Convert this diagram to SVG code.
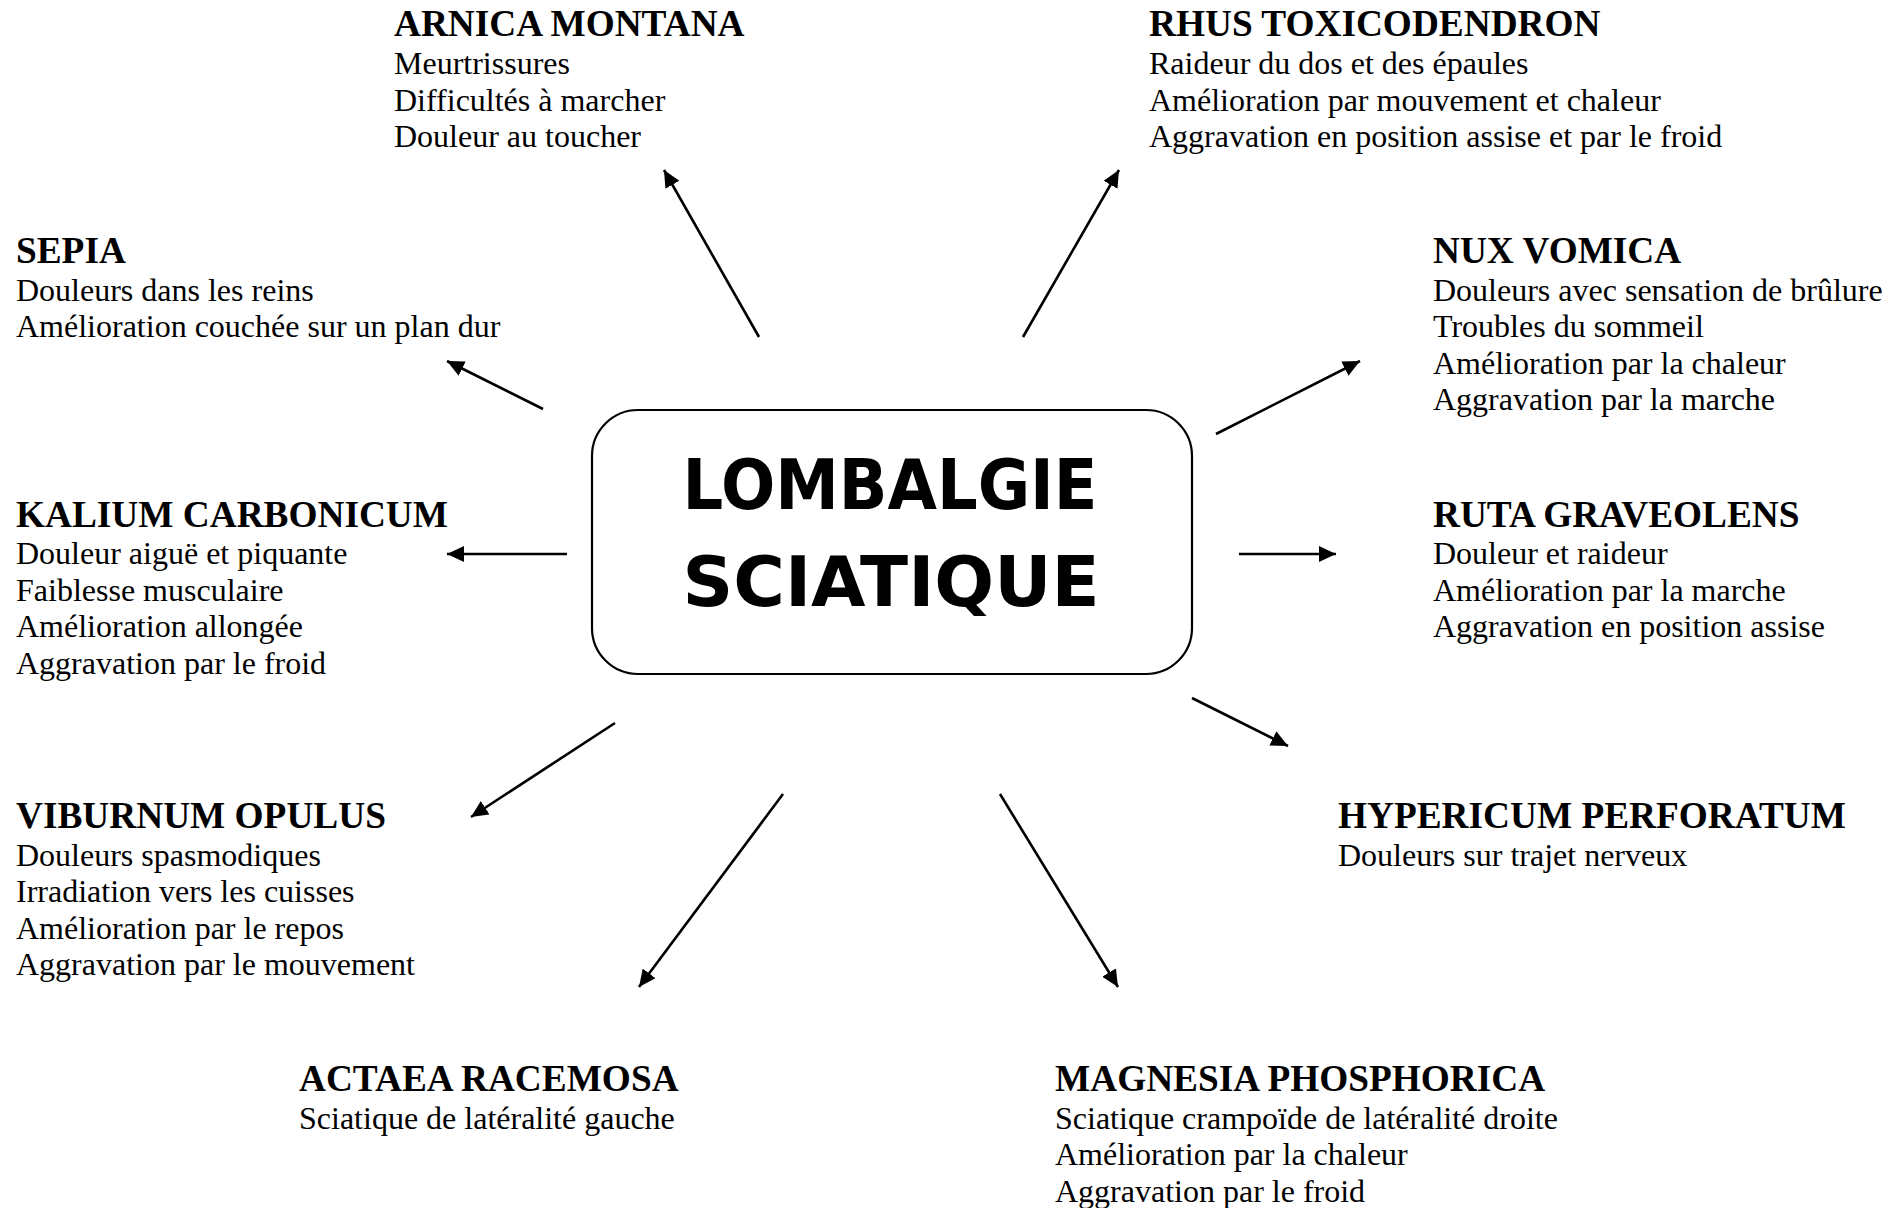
<svg xmlns="http://www.w3.org/2000/svg" width="1901" height="1208" viewBox="0 0 1901 1208">
<style>
.t{font-family:"Liberation Serif","Times New Roman",serif;font-weight:bold;font-size:37.3px;fill:#000}
.b{font-family:"Liberation Serif","Times New Roman",serif;font-size:32px;fill:#000}
.c{font-family:"Comic Sans MS","DejaVu Sans",sans-serif;font-weight:bold;font-size:70px;fill:#000}
.a{stroke:#000;stroke-width:2.6;fill:none;marker-end:url(#ah)}
</style>
<defs>
<marker id="ah" markerUnits="userSpaceOnUse" markerWidth="18" markerHeight="16" refX="17" refY="8" orient="auto">
<path d="M0,0 L17,8 L0,16 z" fill="#000"/>
</marker>
</defs>
<rect width="1901" height="1208" fill="#fff"/>
<g id="center">
<rect x="592" y="410" width="600" height="264" rx="46" ry="46" fill="#fff" stroke="#000" stroke-width="2.2"/>
<text class="c" x="890" y="509" text-anchor="middle" textLength="415" lengthAdjust="spacingAndGlyphs">LOMBALGIE</text>
<text class="c" x="891" y="606" text-anchor="middle" textLength="417" lengthAdjust="spacingAndGlyphs">SCIATIQUE</text>
</g>
<g id="connectors">
<line class="a" x1="759" y1="337" x2="664" y2="170"/>
<line class="a" x1="1023" y1="337" x2="1119" y2="170"/>
<line class="a" x1="543" y1="409" x2="447" y2="361"/>
<line class="a" x1="1216" y1="434" x2="1360" y2="361"/>
<line class="a" x1="567" y1="554" x2="447" y2="554"/>
<line class="a" x1="1239" y1="554" x2="1336" y2="554"/>
<line class="a" x1="615" y1="723" x2="471" y2="817"/>
<line class="a" x1="1192" y1="698" x2="1288" y2="746"/>
<line class="a" x1="783" y1="794" x2="639" y2="987"/>
<line class="a" x1="1000" y1="794" x2="1118" y2="987"/>
</g>
<g id="arnica">
<text class="t" x="394" y="36">ARNICA MONTANA</text>
<text class="b" x="394" y="74">Meurtrissures</text>
<text class="b" x="394" y="110.5">Difficultés à marcher</text>
<text class="b" x="394" y="147">Douleur au toucher</text>
</g>
<g id="rhus">
<text class="t" x="1149" y="36">RHUS TOXICODENDRON</text>
<text class="b" x="1149" y="74">Raideur du dos et des épaules</text>
<text class="b" x="1149" y="110.5">Amélioration par mouvement et chaleur</text>
<text class="b" x="1149" y="147">Aggravation en position assise et par le froid</text>
</g>
<g id="sepia">
<text class="t" x="16" y="263">SEPIA</text>
<text class="b" x="16" y="300.5">Douleurs dans les reins</text>
<text class="b" x="16" y="337">Amélioration couchée sur un plan dur</text>
</g>
<g id="nux">
<text class="t" x="1433" y="263">NUX VOMICA</text>
<text class="b" x="1433" y="300.5">Douleurs avec sensation de brûlure</text>
<text class="b" x="1433" y="337">Troubles du sommeil</text>
<text class="b" x="1433" y="373.5">Amélioration par la chaleur</text>
<text class="b" x="1433" y="410">Aggravation par la marche</text>
</g>
<g id="kalium">
<text class="t" x="16" y="527">KALIUM CARBONICUM</text>
<text class="b" x="16" y="564">Douleur aiguë et piquante</text>
<text class="b" x="16" y="600.5">Faiblesse musculaire</text>
<text class="b" x="16" y="637">Amélioration allongée</text>
<text class="b" x="16" y="673.5">Aggravation par le froid</text>
</g>
<g id="ruta">
<text class="t" x="1433" y="527">RUTA GRAVEOLENS</text>
<text class="b" x="1433" y="564">Douleur et raideur</text>
<text class="b" x="1433" y="600.5">Amélioration par la marche</text>
<text class="b" x="1433" y="637">Aggravation en position assise</text>
</g>
<g id="viburnum">
<text class="t" x="16" y="828">VIBURNUM OPULUS</text>
<text class="b" x="16" y="865.5">Douleurs spasmodiques</text>
<text class="b" x="16" y="902">Irradiation vers les cuisses</text>
<text class="b" x="16" y="938.5">Amélioration par le repos</text>
<text class="b" x="16" y="975">Aggravation par le mouvement</text>
</g>
<g id="hypericum">
<text class="t" x="1338" y="828">HYPERICUM PERFORATUM</text>
<text class="b" x="1338" y="865.5">Douleurs sur trajet nerveux</text>
</g>
<g id="actaea">
<text class="t" x="299" y="1091">ACTAEA RACEMOSA</text>
<text class="b" x="299" y="1128.5">Sciatique de latéralité gauche</text>
</g>
<g id="magnesia">
<text class="t" x="1055" y="1091">MAGNESIA PHOSPHORICA</text>
<text class="b" x="1055" y="1128.5">Sciatique crampoïde de latéralité droite</text>
<text class="b" x="1055" y="1165">Amélioration par la chaleur</text>
<text class="b" x="1055" y="1201.5">Aggravation par le froid</text>
</g>
</svg>
